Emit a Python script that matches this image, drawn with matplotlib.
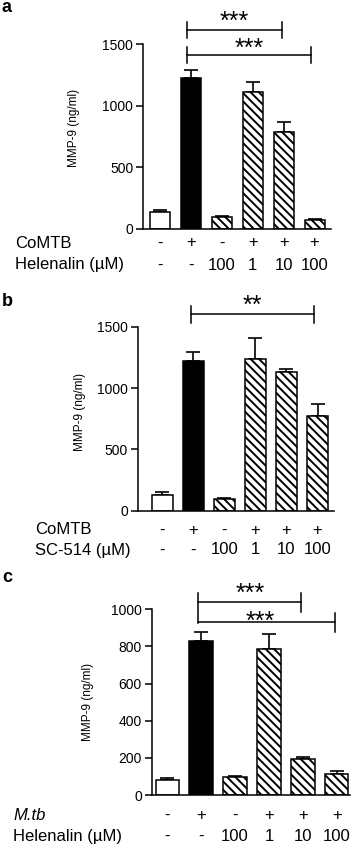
import matplotlib
matplotlib.use("Agg")
import matplotlib.pyplot as plt
import matplotlib.transforms as mtransforms
import numpy as np

plt.rcParams['font.family'] = ['Liberation Sans', 'DejaVu Sans']
plt.rcParams['hatch.linewidth'] = 1.4

# Data
mtb_a = ['-', '+', '-', '+', '+', '+']
helenalin_a = ['-', '-', '100', '1', '10', '100']
mmp9_a = [135, 1222, 95, 1114, 789, 73]
err_a = [20, 67, 10, 81, 76, 5]

mtb_b = ['-', '+', '-', '+', '+', '+']
sc514_b = ['-', '-', '100', '1', '10', '100']
mmp9_b = [128, 1223, 92, 1236, 1128, 774]
err_b = [21, 73, 8, 169, 24, 93]

mtb_c = ['-', '+', '-', '+', '+', '+']
helenalin_c = ['-', '-', '100', '1', '10', '100']
mmp9_c = [80, 829, 95, 785, 192, 111]
err_c = [9, 47, 5, 82, 11, 20]

W, H = 358, 847
fig = plt.figure(figsize=(W / 100, H / 100), dpi=100)


def fx(x):
    return x / W


def fy(y):
    return 1 - y / H


def add_panel(left, right, top, bottom):
    return fig.add_axes([fx(left), fy(bottom), (right - left) / W, (bottom - top) / H])


fills = ['white', 'black', 'white', 'white', 'white', 'white']
hatches = [None, None, '\\\\\\\\', '\\\\\\\\', '\\\\\\\\', '\\\\\\\\']
STAR_SIZE = 18


def draw_bars(ax, vals, errs, width, xlim, ylim, yticks):
    x = np.arange(len(vals))
    ax.errorbar(x, vals, yerr=[np.zeros(len(errs)), errs], fmt='none', ecolor='black',
                elinewidth=1.2, capsize=5, capthick=1.2, zorder=1)
    for i in range(len(vals)):
        ax.bar(x[i], vals[i], width=width, color=fills[i], edgecolor='black',
               linewidth=1.1, hatch=hatches[i], zorder=2)
    ax.set_xlim(*xlim)
    ax.set_ylim(*ylim)
    ax.set_yticks(yticks)
    ax.set_xticks([])
    for s in ['top', 'right']:
        ax.spines[s].set_visible(False)
    for s in ['left', 'bottom']:
        ax.spines[s].set_linewidth(1.1)
    ax.tick_params(axis='y', labelsize=10, width=1.1, length=5, pad=2)


def bracket(ax, x1, x2, y, h, stars, sy, lw=1.1):
    ax.plot([x1, x2], [y, y], color='black', lw=lw, clip_on=False)
    ax.plot([x1, x1], [y - h, y + h], color='black', lw=lw, clip_on=False)
    ax.plot([x2, x2], [y - h, y + h], color='black', lw=lw, clip_on=False)
    ax.text((x1 + x2) / 2, sy, stars, ha='center', va='center', fontsize=STAR_SIZE, clip_on=False)


def row_labels(ax, labels_x, rows):
    tr = mtransforms.blended_transform_factory(ax.transData, fig.transFigure)
    for name, y, vals, style in rows:
        fig.text(fx(labels_x), fy(y), name, ha='left', va='center', fontsize=12, style=style)
        for i, v in enumerate(vals):
            ax.text(i, fy(y), v, transform=tr, ha='center', va='center', fontsize=12)


# Panel a
ax_a = add_panel(143, 331, 44, 229)
draw_bars(ax_a, mmp9_a, err_a, 0.65, (-0.55, 5.53), (0, 1500), [0, 500, 1000, 1500])
bracket(ax_a, 0.88, 3.95, 1613, 67, '***', 1680)
bracket(ax_a, 0.88, 4.88, 1411, 67, '***', 1460)
fig.text(fx(74), fy(128), 'MMP-9 (ng/ml)', rotation=90, ha='center', va='center', fontsize=8.5)
row_labels(ax_a, 15, [('CoMTB', 243, mtb_a, 'normal'), ('Helenalin (µM)', 265, helenalin_a, 'normal')])
fig.text(fx(2), fy(7), 'a', fontsize=13, fontweight='bold', ha='left', va='center')

# Panel b
ax_b = add_panel(137.7, 334, 326.7, 510.7)
draw_bars(ax_b, mmp9_b, err_b, 0.68, (-0.79, 5.53), (0, 1500), [0, 500, 1000, 1500])
bracket(ax_b, 0.92, 4.9, 1601, 68, '**', 1670)
fig.text(fx(80), fy(411.7), 'MMP-9 (ng/ml)', rotation=90, ha='center', va='center', fontsize=8.5)
row_labels(ax_b, 35, [('CoMTB', 530, mtb_b, 'normal'), ('SC-514 (µM)', 550, sc514_b, 'normal')])
fig.text(fx(2), fy(301), 'b', fontsize=13, fontweight='bold', ha='left', va='center')

# Panel c
ax_c = add_panel(151.7, 350, 609.3, 795)
draw_bars(ax_c, mmp9_c, err_c, 0.69, (-0.46, 5.39), (0, 1000), [0, 200, 400, 600, 800, 1000])
lw = 1.1
ax_c.plot([0.92, 0.92], [925, 1086], color='black', lw=lw, clip_on=False)
ax_c.plot([0.92, 3.95], [1038, 1038], color='black', lw=lw, clip_on=False)
ax_c.plot([3.95, 3.95], [987, 1086], color='black', lw=lw, clip_on=False)
ax_c.plot([0.92, 4.95], [933, 933], color='black', lw=lw, clip_on=False)
ax_c.plot([4.95, 4.95], [879, 978], color='black', lw=lw, clip_on=False)
ax_c.text((0.92 + 3.95) / 2, 1085, '***', ha='center', va='center', fontsize=STAR_SIZE, clip_on=False)
ax_c.text((0.92 + 4.95) / 2 - 0.2, 935, '***', ha='center', va='center', fontsize=STAR_SIZE, clip_on=False)
fig.text(fx(88), fy(701.7), 'MMP-9 (ng/ml)', rotation=90, ha='center', va='center', fontsize=8.5)
row_labels(ax_c, 13, [('M.tb', 815, mtb_c, 'italic'), ('Helenalin (µM)', 836.7, helenalin_c, 'normal')])
fig.text(fx(2), fy(577), 'c', fontsize=13, fontweight='bold', ha='left', va='center')

fig.savefig('out.png', dpi=100)
